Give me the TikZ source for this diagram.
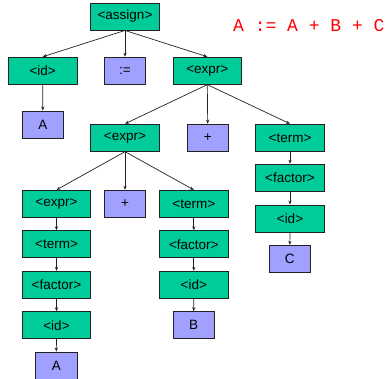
\documentclass[tikz,border=0pt]{standalone}
\usepackage{fontspec}
\setmainfont{Liberation Sans}
\newfontfamily\monofnt{Liberation Mono}
\usetikzlibrary{arrows.meta}
\definecolor{nt}{HTML}{00CC99}
\definecolor{tm}{HTML}{A0A0FF}
\definecolor{edge}{HTML}{222222}
\begin{document}
\begin{tikzpicture}[x=1pt,y=-1pt,
  box/.style={draw=edge,line width=0.9pt,minimum height=27pt,inner sep=0pt,font=\fontsize{13.5}{14}\selectfont},
  ntbox/.style={box,fill=nt,minimum width=68.5pt},
  tmbox/.style={box,fill=tm,minimum width=41.5pt},
  arr/.style={draw=edge,line width=0.7pt,-{Stealth[length=4pt,width=3.2pt]}}]
\useasboundingbox (0,0) rectangle (388,378);
\node[ntbox] (assign) at (125,16.5) {<assign>};
\node[ntbox] (id1) at (42.7,70.7) {<id>};
\node[tmbox] (op) at (125,70.7) {:=};
\node[ntbox] (expr1) at (207.3,70.7) {<expr>};
\node[tmbox] (A1) at (42.8,124.5) {A};
\node[ntbox] (expr2) at (125,137.7) {<expr>};
\node[tmbox] (plus1) at (207.7,137.7) {+};
\node[ntbox] (term1) at (290,137.7) {<term>};
\node[ntbox] (factor1) at (290,177.7) {<factor>};
\node[ntbox] (id2) at (290,218.5) {<id>};
\node[tmbox] (C) at (289.8,258.8) {C};
\node[ntbox] (expr3) at (56.5,203.8) {<expr>};
\node[tmbox] (plus2) at (125,203.8) {+};
\node[ntbox] (term2) at (193.8,203.8) {<term>};
\node[ntbox] (term3) at (56.5,244.3) {<term>};
\node[ntbox] (factor2) at (56.5,284.8) {<factor>};
\node[ntbox] (id3) at (56.5,325.2) {<id>};
\node[tmbox] (A2) at (56.3,365.5) {A};
\node[ntbox] (factor3) at (193.8,244.3) {<factor>};
\node[ntbox] (id4) at (193.8,284.8) {<id>};
\node[tmbox] (B) at (193.7,325.2) {B};
\node[text=red,font=\monofnt\fontsize{18}{20}\selectfont,anchor=west,inner sep=0pt] (src) at (233,25.5) {A := A + B + C};
\foreach \p/\c in {assign/id1,assign/op,assign/expr1,id1/A1,expr1/expr2,expr1/plus1,expr1/term1,term1/factor1,factor1/id2,id2/C,expr2/expr3,expr2/plus2,expr2/term2,expr3/term3,term3/factor2,factor2/id3,id3/A2,term2/factor3,factor3/id4,id4/B}
  \draw[arr] (\p.south) -- (\c.north);
\end{tikzpicture}
\end{document}
